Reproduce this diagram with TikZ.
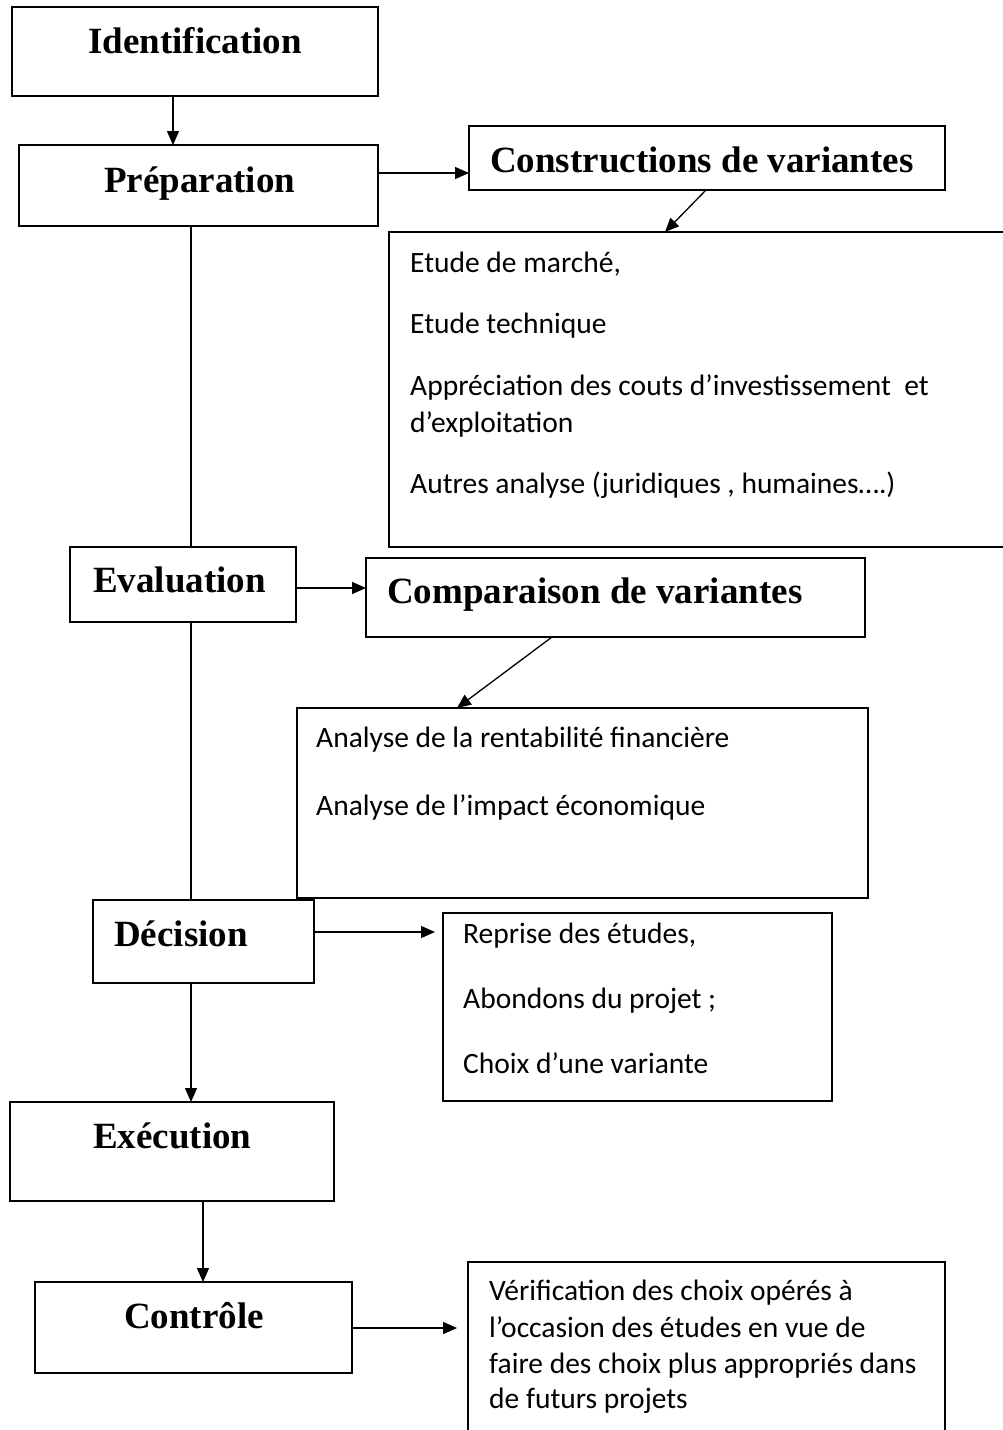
\documentclass[tikz,border=0pt]{standalone}
\usepackage{fontspec}
\setmainfont{Liberation Serif}
\newfontfamily\calfont{Carlito}
\usetikzlibrary{arrows.meta}
\begin{document}
\begin{tikzpicture}[x=1pt,y=-1pt,
  box/.style={draw, line width=1.6pt, rectangle, inner sep=0pt, outer sep=0pt, anchor=north west},
  title/.style={font=\bfseries\fontsize{37}{44}\selectfont, inner sep=0pt, anchor=base west},
  body/.style={font=\calfont\fontsize{29.5}{36}\selectfont, inner sep=0pt, anchor=base west},
  arr/.style={line width=1.3pt, -{Triangle[length=14pt,width=12pt]}},
  ln/.style={line width=1.3pt}]
\useasboundingbox (0,0) rectangle (1002,1430);

% boxes
\node[box, minimum width=366pt, minimum height=89pt] (ident) at (12,7) {};
\node[box, minimum width=359pt, minimum height=81pt] (prep) at (19,145) {};
\node[box, minimum width=476pt, minimum height=64pt] (constr) at (469,126) {};
\node[box, minimum width=621pt, minimum height=315pt] (etude) at (389,232) {};
\node[box, minimum width=226pt, minimum height=75pt] (eval) at (70,547) {};
\node[box, minimum width=499pt, minimum height=79pt] (comp) at (366,558) {};
\node[box, minimum width=571pt, minimum height=190pt] (analyse) at (297,708) {};
\node[box, minimum width=221pt, minimum height=83pt] (dec) at (93,900) {};
\node[box, minimum width=389pt, minimum height=188pt] (reprise) at (443,913) {};
\node[box, minimum width=324pt, minimum height=99pt] (exec) at (10,1102) {};
\node[box, minimum width=317pt, minimum height=91pt] (ctrl) at (35,1282) {};
\node[box, minimum width=477pt, minimum height=200pt] (verif) at (468,1262) {};

% titles
\node[title] (tident) at (88,53) {Identification};
\node[title] (tprep) at (104,192) {Préparation};
\node[title] (tconstr) at (490,172) {Constructions de variantes};
\node[title] (teval) at (93,592) {Evaluation};
\node[title] (tcomp) at (387,603) {Comparaison de variantes};
\node[title] (tdec) at (114,946) {Décision};
\node[title] (texec) at (93,1148) {Exécution};
\node[title] (tctrl) at (124,1328) {Contrôle};

% body texts
\node[body] (e1) at (410,272) {Etude de marché,};
\node[body] (e2) at (410,333) {Etude technique};
\node[body] (e3) at (410,395) {Appréciation des couts d’investissement\ \ et};
\node[body] (e4) at (410,432) {d’exploitation};
\node[body] (e5) at (410,493) {Autres analyse (juridiques , humaines….)};

\node[body] (a1) at (316,747) {Analyse de la rentabilité financière};
\node[body] (a2) at (316,815) {Analyse de l’impact économique};

\node[body] (r1) at (463,943) {Reprise des études,};
\node[body] (r2) at (463,1008) {Abondons du projet ;};
\node[body] (r3) at (463,1073) {Choix d’une variante};

\node[body] (v1) at (489,1300) {Vérification des choix opérés à};
\node[body] (v2) at (489,1337) {l’occasion des études en vue de};
\node[body] (v3) at (489,1373) {faire des choix plus appropriés dans};
\node[body] (v4) at (489,1408) {de futurs projets};

% guide coordinates
\coordinate (xa) at (173,0);
\coordinate (ya) at (0,173);
\coordinate (xb) at (191,0);
\coordinate (yb) at (0,588);
\coordinate (yc) at (0,932);
\coordinate (xc) at (203,0);
\coordinate (yd) at (0,1328);
\coordinate (ta) at (706,0);
\coordinate (tb) at (665,0);
\coordinate (tc) at (552,0);
\coordinate (td) at (457,0);
\coordinate (re) at (435,0);
\coordinate (ve) at (457,0);

% connectors
\draw[arr] (ident.south -| xa) -- (prep.north -| xa);
\draw[arr] (prep.east |- ya) -- (constr.west |- ya);
\draw[arr] (constr.south -| ta) -- (etude.north -| tb);
\draw[ln] (prep.south -| xb) -- (eval.north -| xb);
\draw[arr] (eval.east |- yb) -- (comp.west |- yb);
\draw[arr] (comp.south -| tc) -- (analyse.north -| td);
\draw[ln] (eval.south -| xb) -- (dec.north -| xb);
\draw[arr] (dec.east |- yc) -- (re |- yc);
\draw[arr] (dec.south -| xb) -- (exec.north -| xb);
\draw[arr] (exec.south -| xc) -- (ctrl.north -| xc);
\draw[arr] (ctrl.east |- yd) -- (ve |- yd);
\end{tikzpicture}
\end{document}
